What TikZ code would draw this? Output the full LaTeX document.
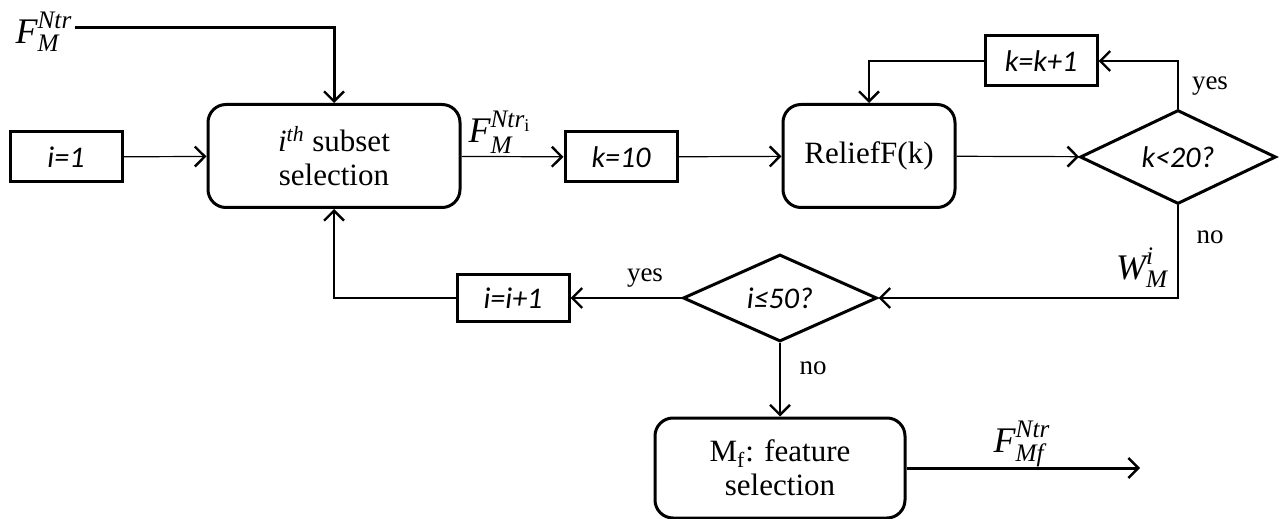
\documentclass[tikz,border=0pt]{standalone}
\usepackage{fontspec}
\usepackage{amsmath}
\setmainfont{Liberation Serif}
\newfontfamily\stepfont{Carlito}
\newcommand{\itx}[1]{\text{\itshape #1}}
\usetikzlibrary{arrows.meta, shapes.geometric}

\begin{document}
\begin{tikzpicture}[
        x=0.5pt, y=-0.5pt,
        stepbox/.style={draw, line width=1.5pt, rectangle, minimum width=56pt, minimum height=25pt, font=\stepfont\itshape\fontsize{15}{17}\selectfont},
        process/.style={draw, line width=1.5pt, rounded corners=9pt, minimum width=126pt, minimum height=51.5pt, align=center, font=\fontsize{15.5}{17}\selectfont},
        decision/.style={draw, line width=1.5pt, diamond, inner sep=0pt, minimum width=98pt, minimum height=43pt, font=\stepfont\itshape\fontsize{15}{17}\selectfont},
        edge/.style={-{Straight Barb[length=5pt, width=10pt, line width=1.2pt]}, line width=0.6pt},
        bigedge/.style={-{Straight Barb[length=5pt, width=10pt, line width=1.2pt]}, line width=1.5pt},
        answer/.style={font=\fontsize{13.5}{15}\selectfont},
        flow/.style={font=\fontsize{18}{20}\selectfont}
    ]
        \useasboundingbox (0,0) rectangle (1282,519);

        % Nodes
        \node[stepbox] (init) at (66,157) {i=1};
        \node[process] (subset) at (334,156) {\textit{i}\textsuperscript{\textit{th}} subset\\selection};
        \node[stepbox] (kset) at (621,157) {k=10};
        \node[process, minimum width=86pt] (relief) at (869,156) {ReliefF(k)};
        \node[decision] (kcheck) at (1178,157) {k<20?};
        \node[stepbox] (kinc) at (1041,61) {k=k+1};
        \node[decision, minimum width=97pt, minimum height=42pt] (icheck) at (780,298) {i≤50?};
        \node[stepbox, minimum height=23.5pt] (iinc) at (513,298) {i=i+1};
        \node[process, minimum width=125pt, minimum height=50pt] (mf) at (780,468) {M\textsubscript{f}: feature\\selection};

        % Labels
        \node[flow] (fin) at (44,32) {$\itx{F}_{\itx{M}}^{\itx{Ntr}}$};
        \node[flow] (fsub) at (500,132) {$\itx{F}_{\itx{M}}^{\itx{Ntr}_{\text{i}}}$};
        \node[flow] (wlab) at (1142,268) {$\itx{W}_{\itx{M}}^{\itx{i}}$};
        \node[flow] (fmf) at (1022,444) {$\itx{F}_{\itx{Mf}}^{\itx{Ntr}}$};
        \node[answer] (kyes) at (1210,86) {yes};
        \node[answer] (kno) at (1210,237) {no};
        \node[answer] (iyes) at (645,278) {yes};
        \node[answer] (ino) at (813,368) {no};
        \coordinate (fstart) at (75,28);
        \coordinate (fout) at (1140,468);

        % Edges
        \draw[bigedge] (fstart) -| (subset.north);
        \draw[edge] (init) -- (subset);
        \draw[edge] (subset) -- (kset);
        \draw[edge] (kset) -- (relief);
        \draw[edge] (relief) -- (kcheck);
        \draw[edge] (kcheck.north) |- (kinc.east);
        \draw[edge] (kinc.west) -| (relief.north);
        \draw[edge] (kcheck.south) |- (icheck.east);
        \draw[edge] (icheck.west) -- (iinc.east);
        \draw[edge] (iinc.west) -| (subset.south);
        \draw[edge] (icheck.south) -- (mf.north);
        \draw[bigedge] (mf.east) -- (fout);

    \end{tikzpicture}
\end{document}
